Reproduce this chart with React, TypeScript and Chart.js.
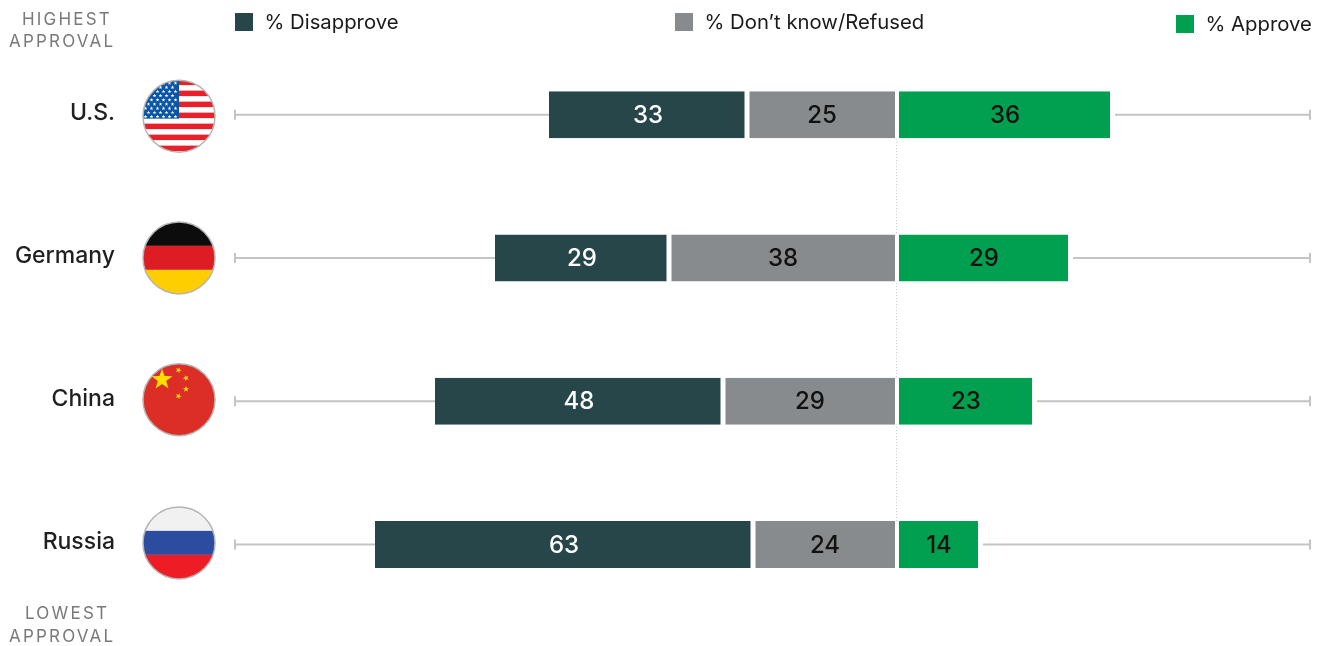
import React, { useEffect, useRef } from "react";
import { Chart, registerables } from "chart.js";

Chart.register(...registerables);

const categories = ["U.S.", "Germany", "China", "Russia"];
const disapprove = [33, 29, 48, 63];
const dontKnow = [25, 38, 29, 24];
const approve = [36, 29, 23, 14];

const DARK = "#27464A";
const GREY = "#888B8D";
const GREEN = "#00A050";
const FONT = "Inter, 'Noto Sans', sans-serif";

function star(c: CanvasRenderingContext2D, x: number, y: number, r: number, rot = 0) {
  c.beginPath();
  for (let i = 0; i < 10; i++) {
    const rad = i % 2 === 0 ? r : r * 0.4;
    const a = -Math.PI / 2 + rot + (i * Math.PI) / 5;
    const px = x + rad * Math.cos(a);
    const py = y + rad * Math.sin(a);
    if (i === 0) c.moveTo(px, py);
    else c.lineTo(px, py);
  }
  c.closePath();
  c.fill();
}

function drawFlag(c: CanvasRenderingContext2D, name: string, cx: number, cy: number, r: number) {
  const x = cx - r;
  const y = cy - r;
  const d = r * 2;
  c.save();
  c.beginPath();
  c.arc(cx, cy, r, 0, Math.PI * 2);
  c.clip();
  if (name === "U.S.") {
    c.fillStyle = "#ffffff";
    c.fillRect(x, y, d, d);
    c.fillStyle = "#E8202A";
    for (let i = 0; i < 7; i++) c.fillRect(x, y + i * 11 - 0.5, d, 5.5);
    c.fillStyle = "#0B56A4";
    c.fillRect(x, y, r, 38.5);
    c.fillStyle = "#ffffff";
    for (let row = 0; row < 9; row++) {
      const n = row % 2 === 0 ? 6 : 5;
      for (let i = 0; i < n; i++) {
        star(c, x + 2.5 + (row % 2 === 0 ? 0 : 3) + i * 6, y + 3 + row * 4.2, 2);
      }
    }
  } else if (name === "Germany") {
    c.fillStyle = "#0c0c0c";
    c.fillRect(x, y, d, d / 3);
    c.fillStyle = "#DD1C24";
    c.fillRect(x, y + d / 3, d, d / 3);
    c.fillStyle = "#FFCE00";
    c.fillRect(x, y + (2 * d) / 3, d, d / 3);
  } else if (name === "China") {
    c.fillStyle = "#DC2E26";
    c.fillRect(x, y, d, d);
    c.fillStyle = "#FFDE00";
    star(c, cx - 17, cy - 20, 11);
    star(c, cx - 0.5, cy - 29.5, 3.2, 0.4);
    star(c, cx + 7, cy - 21.5, 3.2, 0.8);
    star(c, cx + 7, cy - 10.5, 3.2, 0);
    star(c, cx - 0.5, cy - 3.5, 3.2, 0.4);
  } else {
    c.fillStyle = "#F1F1F1";
    c.fillRect(x, y, d, d / 3);
    c.fillStyle = "#2B4C9F";
    c.fillRect(x, y + d / 3, d, d / 3);
    c.fillStyle = "#EE1C25";
    c.fillRect(x, y + (2 * d) / 3, d, d / 3);
  }
  c.restore();
  c.beginPath();
  c.arc(cx, cy, r, 0, Math.PI * 2);
  c.strokeStyle = "#B4B4B4";
  c.lineWidth = 1.5;
  c.stroke();
}

const guidePlugin = {
  id: "guides",
  beforeDatasetsDraw(chart: any) {
    const c = chart.ctx as CanvasRenderingContext2D;
    const xs = chart.scales.x;
    const ys = chart.scales.y;
    const half = 23.5;
    c.save();
    c.strokeStyle = "#C4C4C4";
    c.lineWidth = 2;
    categories.forEach((_, i) => {
      const y = ys.getPixelForValue(i);
      const left = xs.getPixelForValue(-(disapprove[i] + dontKnow[i]));
      const right = xs.getPixelForValue(approve[i]);
      c.beginPath();
      c.moveTo(xs.left, y);
      c.lineTo(left, y);
      c.moveTo(right + 2, y);
      c.lineTo(xs.right, y);
      c.stroke();
      c.beginPath();
      c.moveTo(xs.left + 1, y - 5);
      c.lineTo(xs.left + 1, y + 5);
      c.moveTo(xs.right - 1, y - 5);
      c.lineTo(xs.right - 1, y + 5);
      c.stroke();
    });
    c.strokeStyle = "#C9C9C9";
    c.lineWidth = 1;
    c.setLineDash([1, 2]);
    const x0 = xs.getPixelForValue(0) - 1;
    c.beginPath();
    c.moveTo(x0 + 0.5, ys.getPixelForValue(0) - half);
    c.lineTo(x0 + 0.5, ys.getPixelForValue(categories.length - 1) + half);
    c.stroke();
    c.restore();
  },
  afterDatasetsDraw(chart: any) {
    const c = chart.ctx as CanvasRenderingContext2D;
    c.save();
    c.font = `500 24px ${FONT}`;
    c.textAlign = "center";
    c.textBaseline = "middle";
    chart.data.datasets.forEach((ds: any, di: number) => {
      const meta = chart.getDatasetMeta(di);
      meta.data.forEach((bar: any, i: number) => {
        c.fillStyle = ds.label === "% Disapprove" ? "#ffffff" : "#111111";
        c.fillText(String(Math.abs(ds.data[i])), (bar.x + bar.base) / 2, bar.y + 1);
      });
    });
    c.restore();
  },
  afterDraw(chart: any) {
    const c = chart.ctx as CanvasRenderingContext2D;
    const ys = chart.scales.y;
    const flagNudge = [1.5, 0, -1.5, -1.5];
    categories.forEach((name, i) => {
      drawFlag(c, name, 179, ys.getPixelForValue(i) + flagNudge[i], 36);
    });
  },
};

const abs = (left: number, top: number, extra: React.CSSProperties = {}): React.CSSProperties => ({
  position: "absolute",
  left,
  top,
  whiteSpace: "nowrap",
  fontFamily: FONT,
  ...extra,
});

function LegendItem({ x, y, color, label }: { x: number; y: number; color: string; label: string }) {
  return (
    <>
      <div style={abs(x, y - 9, { width: 18, height: 18, background: color })} />
      <div style={abs(x + 29.5, y - 14, { fontSize: 20.3, lineHeight: "28px", color: "#1a1a1a" })}>{label}</div>
    </>
  );
}

function Caption({ left, top, text }: { left: number; top: number; text: string }) {
  return (
    <div style={abs(left, top, { fontSize: 17, lineHeight: "22px", letterSpacing: 2.2, color: "#77797B" })}>{text}</div>
  );
}

export default function App() {
  const ref = useRef<HTMLCanvasElement>(null);
  useEffect(() => {
    if (!ref.current) return;
    const chart = new Chart(ref.current, {
      type: "bar",
      data: {
        labels: categories,
        datasets: [
          {
            label: "% Don't know/Refused",
            data: dontKnow.map((v) => -v),
            backgroundColor: GREY,
            borderColor: "#ffffff",
            borderWidth: { left: 2.5, right: 2, top: 0, bottom: 0 },
            borderSkipped: false,
          },
          {
            label: "% Disapprove",
            data: disapprove.map((v) => -v),
            backgroundColor: DARK,
            borderColor: "#ffffff",
            borderWidth: { left: 0, right: 2.5, top: 0, bottom: 0 },
            borderSkipped: false,
          },
          {
            label: "% Approve",
            data: approve,
            backgroundColor: GREEN,
            borderColor: "#ffffff",
            borderWidth: { left: 2, right: 3, top: 0, bottom: 0 },
            borderSkipped: false,
          },
        ],
      },
      options: {
        indexAxis: "y",
        responsive: false,
        animation: false,
        devicePixelRatio: 1,
        layout: { padding: { top: 43, bottom: 30, right: 13, left: 0 } },
        datasets: { bar: { barThickness: 47, inflateAmount: 0 } },
        plugins: { legend: { display: false }, tooltip: { enabled: false } },
        scales: {
          x: { display: false, stacked: true, min: -110.5, max: 69 },
          y: {
            stacked: true,
            afterFit: (s: any) => {
              s.width = 234;
              s.paddingTop = 0;
              s.paddingBottom = 0;
            },
            grid: { display: false },
            border: { display: false },
            ticks: {
              padding: 111,
              labelOffset: -2,
              color: "#1f1f1f",
              font: { family: FONT, size: 23, weight: "500" },
            },
          },
        },
      } as any,
      plugins: [guidePlugin],
    });
    return () => chart.destroy();
  }, []);

  return (
    <div style={{ position: "absolute", left: 0, top: 0, width: 1324, height: 646, overflow: "hidden", background: "#fff" }}>
      <canvas ref={ref} width={1324} height={646} style={{ display: "block" }} />
      <LegendItem x={235} y={22} color={DARK} label="% Disapprove" />
      <LegendItem x={675} y={22} color={GREY} label="% Don’t know/Refused" />
      <LegendItem x={1176} y={24} color={GREEN} label="% Approve" />
      <Caption left={22} top={8} text="HIGHEST" />
      <Caption left={9} top={30} text="APPROVAL" />
      <Caption left={25} top={602} text="LOWEST" />
      <Caption left={9} top={625} text="APPROVAL" />
    </div>
  );
}
